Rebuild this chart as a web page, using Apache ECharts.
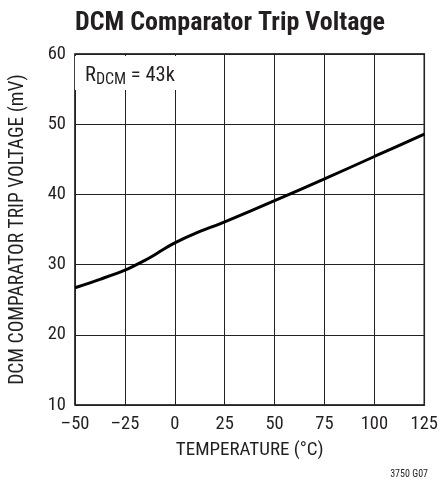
<!DOCTYPE html>
<html><head><meta charset="utf-8">
<script src="https://cdn.jsdelivr.net/npm/echarts@6/dist/echarts.min.js"></script>
<style>html,body{margin:0;padding:0;background:#fff}#c{width:441px;height:489px}</style>
</head><body><div id="c"></div>
<script>
const temperature = [-50, -37.5, -25, -15, -10, -5, 0, 10, 25, 50, 75, 100, 125];
const tripVoltage = [26.7, 27.9, 29.2, 30.6, 31.4, 32.3, 33.1, 34.4, 36.1, 39.1, 42.2, 45.4, 48.6];
const xTicks = [-50, -25, 0, 25, 50, 75, 100, 125];
const yTicks = [10, 20, 30, 40, 50, 60];

const FONT = '"Liberation Sans Narrow", "Roboto Condensed", "Liberation Sans", Arial, sans-serif';
const chart = echarts.init(document.getElementById('c'));
chart.setOption({
  animation: false,
  backgroundColor: '#fff',
  title: {
    text: 'DCM Comparator Trip Voltage',
    left: 225, top: 5, textAlign: 'center',
    textStyle: { fontFamily: FONT, fontWeight: 'bold', fontSize: 26, color: '#231f20' }
  },
  grid: { left: 73, right: 16, top: 54, bottom: 84, show: true, borderColor: '#000', borderWidth: 1.5 },
  xAxis: {
    type: 'value', min: -50, max: 125, interval: 25,
    name: 'TEMPERATURE (°C)', nameLocation: 'middle', nameGap: 36,
    nameTextStyle: { fontFamily: FONT, fontSize: 19, color: '#231f20' },
    axisLine: { show: false }, axisTick: { show: false },
    axisLabel: { fontFamily: FONT, fontSize: 18.5, color: '#231f20', margin: 10,
      formatter: v => xTicks.includes(v) ? (v < 0 ? '\u2013' + Math.abs(v) : String(v)) : '' },
    splitLine: { lineStyle: { color: '#222', width: 1 } }
  },
  yAxis: {
    type: 'value', min: 10, max: 60, interval: 10,
    name: 'DCM COMPARATOR TRIP VOLTAGE (mV)', nameLocation: 'middle', nameGap: 47,
    nameTextStyle: { fontFamily: FONT, fontSize: 19.5, color: '#231f20' },
    axisLine: { show: false }, axisTick: { show: false },
    axisLabel: { fontFamily: FONT, fontSize: 18.5, color: '#231f20', margin: 9,
      formatter: v => yTicks.includes(v) ? String(v) : '' },
    splitLine: { lineStyle: { color: '#222', width: 1 } }
  },
  series: [{
    type: 'line', smooth: 0.3, symbol: 'none',
    data: temperature.map((t, i) => [t, tripVoltage[i]]),
    lineStyle: { color: '#000', width: 3 }
  }],
  graphic: [
    { type: 'rect', left: 75, top: 56, shape: { width: 104, height: 34 }, style: { fill: '#fff' }, z: 10 },
    { type: 'text', left: 85, top: 64, z: 11,
      style: { text: '{r|R}{s|DCM}{r| = 43k}', rich: {
        r: { fontFamily: FONT, fontSize: 20.5, fill: '#231f20', verticalAlign: 'top', lineHeight: 21 },
        s: { fontFamily: FONT, fontSize: 16, fill: '#231f20', padding: [8, 0, 0, 0], lineHeight: 21 }
      } } },
    { type: 'text', right: 13, top: 469, style: { text: '3750 G07', fontFamily: FONT, fontSize: 10, fill: '#231f20' } }
  ]
});
</script></body></html>
